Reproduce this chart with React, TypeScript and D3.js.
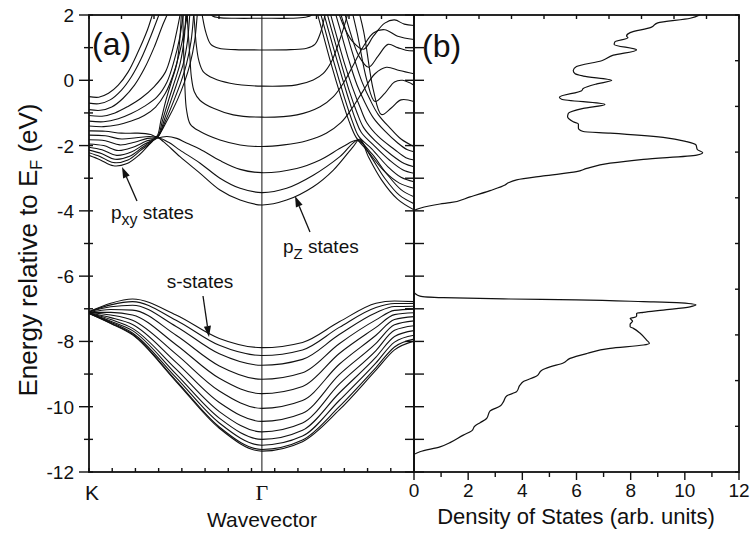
import React from 'react';
import * as d3 from 'd3';

// ---------- axis / tick data ----------
const energyTickValues = [2, 0, -2, -4, -6, -8, -10, -12];
const dosTickValues = [0, 2, 4, 6, 8, 10, 12];
const yTitle = 'Energy relative to E';
const kPointLabels = ['K', 'Γ'];
const kPointPositions = [0, 0.532];

// ---------- s-band data (k as fraction of K-Γ-M path) ----------
const sBandK = [0, 0.067, 0.134, 0.268, 0.401, 0.532, 0.657, 0.77, 0.883, 0.94, 1.0];
const sBands = [
  [-7.09, -6.83, -6.7, -7.19, -7.91, -8.19, -8.03, -7.4, -6.83, -6.76, -6.78],
  [-7.09, -6.88, -6.78, -7.35, -8.12, -8.43, -8.26, -7.57, -6.96, -6.84, -6.84],
  [-7.1, -6.94, -6.89, -7.54, -8.38, -8.73, -8.55, -7.79, -7.12, -6.93, -6.92],
  [-7.11, -7.02, -7.04, -7.81, -8.75, -9.16, -8.96, -8.07, -7.34, -7.05, -7.01],
  [-7.11, -7.11, -7.19, -8.1, -9.13, -9.6, -9.38, -8.37, -7.57, -7.18, -7.12],
  [-7.12, -7.19, -7.35, -8.39, -9.52, -10.05, -9.81, -8.7, -7.81, -7.33, -7.24],
  [-7.13, -7.27, -7.48, -8.64, -9.87, -10.45, -10.2, -9.02, -8.06, -7.49, -7.37],
  [-7.13, -7.33, -7.6, -8.85, -10.15, -10.77, -10.5, -9.31, -8.28, -7.66, -7.52],
  [-7.13, -7.38, -7.67, -9.0, -10.35, -11.0, -10.72, -9.58, -8.48, -7.85, -7.67],
  [-7.14, -7.41, -7.74, -9.11, -10.5, -11.18, -10.9, -9.81, -8.66, -8.02, -7.81],
  [-7.14, -7.44, -7.78, -9.2, -10.62, -11.31, -11.02, -10.0, -8.8, -8.17, -7.93],
  [-7.14, -7.45, -7.8, -9.23, -10.66, -11.36, -11.07, -10.1, -8.88, -8.26, -7.99],
];

// ---------- p-band data: [k, E] ----------
const pzLowerBands = [
  [[0, -2.3], [0.035, -2.44], [0.075, -2.62], [0.115, -2.56], [0.155, -2.28], [0.185, -1.97], [0.208, -1.74], [0.229, -1.88], [0.28, -2.34], [0.342, -2.85], [0.403, -3.36], [0.465, -3.67], [0.532, -3.82], [0.608, -3.67], [0.69, -3.26], [0.752, -2.75], [0.813, -2.03], [0.834, -1.8], [0.86, -2.35], [0.9, -3.05], [0.95, -3.65], [1.0, -3.97]],
  [[0, -2.22], [0.035, -2.34], [0.075, -2.52], [0.12, -2.44], [0.16, -2.14], [0.19, -1.92], [0.21, -1.76], [0.245, -1.9], [0.28, -2.14], [0.342, -2.54], [0.403, -3.0], [0.465, -3.31], [0.532, -3.44], [0.608, -3.31], [0.69, -2.91], [0.772, -2.34], [0.83, -1.82], [0.865, -2.3], [0.91, -3.0], [0.955, -3.52], [1.0, -3.78]],
  [[0, -2.14], [0.04, -2.25], [0.08, -2.42], [0.125, -2.33], [0.165, -2.05], [0.195, -1.86], [0.212, -1.77], [0.24, -1.72], [0.27, -1.78], [0.3, -1.92], [0.342, -2.11], [0.403, -2.46], [0.465, -2.73], [0.532, -2.83], [0.639, -2.7], [0.711, -2.44], [0.782, -2.03], [0.826, -1.84], [0.87, -2.25], [0.915, -2.85], [0.96, -3.35], [1.0, -3.57]],
];
const pzUpperBands = [
  [[0.288, 2.4], [0.29, 1.4], [0.292, 0.6], [0.295, -0.2], [0.3, -0.9], [0.312, -1.35], [0.342, -1.57], [0.403, -1.83], [0.465, -1.98], [0.532, -2.03], [0.6, -1.98], [0.67, -1.85], [0.73, -1.62], [0.775, -1.3], [0.81, -0.85], [0.845, -0.3], [0.88, 0.2], [0.915, 0.4], [0.955, 0.3], [1.0, 0.2]],
  [[0.3, 2.4], [0.305, 1.5], [0.31, 0.8], [0.315, 0.1], [0.324, -0.35], [0.342, -0.62], [0.383, -0.86], [0.444, -1.06], [0.532, -1.13], [0.64, -1.06], [0.711, -0.81], [0.752, -0.5], [0.785, -0.05], [0.815, 0.5], [0.845, 1.05], [0.875, 1.45], [0.91, 1.55], [0.95, 1.35], [1.0, 1.25]],
  [[0.32, 2.4], [0.325, 1.7], [0.33, 1.1], [0.338, 0.6], [0.352, 0.26], [0.383, 0.06], [0.434, -0.09], [0.532, -0.18], [0.639, -0.14], [0.69, 0.01], [0.721, 0.21], [0.745, 0.55], [0.765, 1.05], [0.785, 1.65], [0.8, 2.2], [0.81, 2.6]],
  [[0.343, 2.4], [0.35, 1.9], [0.36, 1.45], [0.375, 1.1], [0.4, 0.98], [0.45, 0.94], [0.532, 0.93], [0.62, 0.94], [0.67, 0.98], [0.695, 1.1], [0.712, 1.45], [0.725, 1.95], [0.735, 2.5]],
  [[0.36, 2.4], [0.37, 2.1], [0.38, 1.97], [0.4, 1.92], [0.45, 1.9], [0.532, 1.9], [0.62, 1.9], [0.665, 1.93], [0.685, 2.0], [0.7, 2.3], [0.71, 2.6]],
];
const kSideBundleBands = [
  [[0, -1.55], [0.05, -1.56], [0.1, -1.62], [0.15, -1.62], [0.19, -1.66], [0.208, -1.72], [0.222, -1.2], [0.237, -0.6], [0.255, 0.0], [0.27, 0.5], [0.279, 1.2], [0.284, 2.0], [0.286, 2.4]],
  [[0, -1.68], [0.05, -1.7], [0.1, -1.8], [0.145, -1.76], [0.185, -1.72], [0.21, -1.73], [0.227, -1.2], [0.245, -0.6], [0.263, -0.05], [0.28, 0.5], [0.292, 1.2], [0.298, 2.0], [0.3, 2.4]],
  [[0, -1.82], [0.05, -1.85], [0.095, -1.98], [0.14, -1.9], [0.18, -1.78], [0.211, -1.74], [0.232, -1.2], [0.253, -0.6], [0.272, -0.05], [0.29, 0.5], [0.303, 1.2], [0.31, 2.0], [0.313, 2.4]],
  [[0, -1.95], [0.045, -2.0], [0.09, -2.15], [0.135, -2.05], [0.175, -1.87], [0.21, -1.75], [0.237, -1.2], [0.262, -0.6], [0.283, -0.05], [0.3, 0.5], [0.314, 1.2], [0.322, 2.0], [0.325, 2.4]],
  [[0, -2.05], [0.04, -2.13], [0.085, -2.3], [0.13, -2.2], [0.17, -1.96], [0.208, -1.76], [0.242, -1.2], [0.272, -0.6], [0.294, -0.05], [0.311, 0.5], [0.325, 1.2], [0.333, 2.0], [0.336, 2.4]],
];
const kSideUpperBands = [
  [[0, -0.5], [0.03, -0.52], [0.06, -0.4], [0.09, -0.15], [0.12, 0.25], [0.15, 0.85], [0.18, 1.55], [0.195, 2.0], [0.21, 2.4]],
  [[0, -0.7], [0.03, -0.72], [0.065, -0.6], [0.1, -0.3], [0.13, 0.1], [0.16, 0.65], [0.19, 1.35], [0.215, 2.0], [0.23, 2.4]],
  [[0, -0.9], [0.035, -0.92], [0.07, -0.82], [0.105, -0.55], [0.14, -0.15], [0.17, 0.35], [0.2, 1.0], [0.225, 1.65], [0.24, 2.0], [0.255, 2.4]],
  [[0, -1.08], [0.04, -1.1], [0.08, -1.0], [0.12, -0.8], [0.16, -0.55], [0.2, -0.2], [0.235, 0.25], [0.255, 0.85], [0.27, 1.5], [0.28, 2.0], [0.285, 2.4]],
  [[0, -1.25], [0.045, -1.27], [0.09, -1.18], [0.13, -1.02], [0.17, -0.8], [0.21, -0.5], [0.24, -0.05], [0.262, 0.6], [0.278, 1.25], [0.29, 2.0], [0.295, 2.4]],
  [[0, -1.4], [0.045, -1.42], [0.09, -1.36], [0.13, -1.25], [0.17, -1.08], [0.205, -0.82], [0.235, -0.4], [0.26, 0.2], [0.28, 0.9], [0.295, 1.6], [0.305, 2.1], [0.31, 2.4]],
];
const mSideBundleBands = [
  [[0.69, 2.5], [0.715, 1.6], [0.745, 0.5], [0.775, -0.5], [0.8, -1.25], [0.822, -1.75], [0.86, -2.2], [0.91, -2.8], [0.955, -3.15], [1.0, -3.31]],
  [[0.7, 2.5], [0.725, 1.6], [0.755, 0.5], [0.785, -0.5], [0.81, -1.25], [0.83, -1.72], [0.87, -2.1], [0.92, -2.65], [0.96, -2.97], [1.0, -3.11]],
  [[0.71, 2.5], [0.735, 1.6], [0.765, 0.55], [0.795, -0.45], [0.82, -1.2], [0.838, -1.6], [0.875, -1.98], [0.925, -2.45], [0.965, -2.74], [1.0, -2.85]],
  [[0.72, 2.5], [0.745, 1.6], [0.775, 0.55], [0.8, -0.3], [0.825, -1.0], [0.845, -1.45], [0.88, -1.85], [0.93, -2.28], [0.97, -2.55], [1.0, -2.65]],
  [[0.73, 2.5], [0.755, 1.6], [0.785, 0.55], [0.81, -0.2], [0.835, -0.85], [0.855, -1.3], [0.89, -1.72], [0.94, -2.12], [0.975, -2.37], [1.0, -2.44]],
  [[0.745, 2.5], [0.77, 1.65], [0.8, 0.6], [0.825, -0.15], [0.85, -0.7], [0.875, -1.15], [0.91, -1.55], [0.95, -1.92], [0.98, -2.13], [1.0, -2.19]],
  [[0.76, 2.5], [0.785, 1.7], [0.815, 0.7], [0.84, -0.05], [0.865, -0.6], [0.89, -1.05], [0.925, -1.45], [0.96, -1.8], [1.0, -2.03]],
];
const mSideZigzagBands = [
  [[0.755, 2.5], [0.78, 1.75], [0.81, 1.2], [0.845, 0.95], [0.875, 1.35], [0.91, 1.75], [0.94, 1.85], [0.97, 1.72], [1.0, 1.68]],
  [[0.775, 2.5], [0.8, 1.6], [0.83, 0.75], [0.86, 0.4], [0.89, 0.75], [0.92, 1.1], [0.95, 1.0], [0.975, 0.92], [1.0, 0.9]],
  [[0.8, 2.5], [0.825, 1.45], [0.855, 0.0], [0.88, -0.65], [0.91, -0.4], [0.94, -0.05], [0.965, 0.0], [1.0, -0.15]],
  [[0.82, 2.5], [0.845, 1.5], [0.875, -0.3], [0.9, -1.05], [0.93, -0.85], [0.96, -0.6], [1.0, -0.65]],
];

// ---------- density of states: [DOS, E] ----------
const dosUpper = [
  [10.55, 2.0], [10.2, 1.9], [9.0, 1.76], [8.75, 1.62], [7.98, 1.46], [7.85, 1.36], [7.9, 1.3], [7.42, 1.18], [7.39, 1.1],
  [8.22, 0.93], [7.36, 0.77], [6.93, 0.6], [6.0, 0.42], [5.88, 0.3], [5.95, 0.2], [6.25, 0.13], [7.3, 0.0], [6.75, -0.11],
  [6.25, -0.25], [6.19, -0.32], [5.37, -0.52], [5.45, -0.58], [7.05, -0.74], [6.25, -0.86], [5.7, -1.01], [5.67, -1.12],
  [5.88, -1.27], [6.07, -1.34], [6.07, -1.47], [6.25, -1.57], [7.24, -1.62], [9.2, -1.75], [10.07, -1.88], [10.41, -1.98],
  [10.46, -2.12], [10.66, -2.22], [10.44, -2.29], [8.47, -2.42], [7.24, -2.54], [6.38, -2.7], [6.0, -2.8], [4.78, -2.93],
  [3.79, -3.05], [3.48, -3.14], [3.36, -3.21], [2.81, -3.38], [2.07, -3.57], [1.33, -3.75], [0.96, -3.79], [0.22, -3.92],
  [0, -4.0], [0, -6.5],
];
const dosLower = [
  [0, -6.5], [0.04, -6.53], [0.22, -6.61], [1.08, -6.66], [3.54, -6.7], [6.0, -6.73], [8.47, -6.78], [9.7, -6.81],
  [10.41, -6.88], [10.19, -6.94], [9.2, -7.04], [8.47, -7.11], [8.22, -7.14], [8.22, -7.22], [8.1, -7.27], [7.98, -7.29],
  [8.07, -7.38], [7.98, -7.47], [7.98, -7.55], [8.1, -7.6], [8.35, -7.75], [8.59, -7.96], [8.69, -8.06], [8.47, -8.11],
  [7.24, -8.21], [6.38, -8.37], [5.76, -8.52], [5.51, -8.66], [5.02, -8.78], [4.72, -8.88], [4.53, -9.06], [4.04, -9.23],
  [3.91, -9.34], [3.79, -9.54], [3.42, -9.67], [3.3, -9.85], [3.18, -9.98], [2.81, -10.13], [2.68, -10.36], [2.44, -10.49],
  [2.25, -10.59], [2.13, -10.74], [1.82, -10.87], [1.33, -11.1], [0.96, -11.23], [0.22, -11.38], [0, -11.48], [0, -12],
];

const FONT = '"Liberation Sans", Arial, Helvetica, sans-serif';

function Arrow({ x1, y1, x2, y2 }) {
  const ang = Math.atan2(y2 - y1, x2 - x1);
  const len = 11;
  const hw = 3.6;
  const bx = x2 - len * Math.cos(ang);
  const by = y2 - len * Math.sin(ang);
  const px = -Math.sin(ang) * hw;
  const py = Math.cos(ang) * hw;
  return (
    <g>
      <line x1={x1} y1={y1} x2={bx} y2={by} stroke="#111" strokeWidth={1.3} />
      <polygon points={`${x2},${y2} ${bx + px},${by + py} ${bx - px},${by - py}`} fill="#111" />
    </g>
  );
}

export default function App() {
  const L = 89, MID = 414, R = 739, T = 15, B = 472;
  const k = d3.scaleLinear().domain([0, 1]).range([L, MID]);
  const e = d3.scaleLinear().domain([-12, 2]).range([B, T]);
  const dos = d3.scaleLinear().domain([0, 12]).range([MID, R]);

  const sLine = d3.line().x((d) => k(d[0])).y((d) => e(d[1])).curve(d3.curveMonotoneX);
  const pLine = d3.line().x((d) => k(d[0])).y((d) => e(d[1])).curve(d3.curveCatmullRom.alpha(0.5));
  const dLine = d3.line().x((d) => dos(d[0])).y((d) => e(d[1])).curve(d3.curveMonotoneY);

  const pBands = [...pzLowerBands, ...pzUpperBands, ...kSideBundleBands, ...kSideUpperBands, ...mSideBundleBands, ...mSideZigzagBands];
  const intE = d3.range(-12, 3, 1);
  const axisW = 1.8;
  const stroke = '#111';

  const topTicksL = d3.range(0, 11).map((i) => L + (i * (MID - L)) / 10);
  const botTicksL = d3.range(0, 15).map((i) => L + (i * (MID - L)) / 14);
  const topTicksR = d3.range(0, 11).map((i) => MID + (i * (R - MID)) / 10);
  const rightTicksR = d3.range(0, 11).map((i) => T + (i * (B - T)) / 10);

  return (
    <svg width={752} height={534} style={{ position: 'absolute', left: 0, top: 0, background: '#fff' }} fontFamily={FONT}>
      <defs>
        <clipPath id="clipA">
          <rect x={L} y={T} width={MID - L} height={B - T} />
        </clipPath>
        <clipPath id="clipB">
          <rect x={MID} y={T - 1} width={R - MID} height={B - T + 2} />
        </clipPath>
      </defs>

      <g clipPath="url(#clipA)" fill="none" stroke={stroke} strokeWidth={1.1}>
        {sBands.map((band, i) => (
          <path key={'s' + i} d={sLine(band.map((v, j) => [sBandK[j], v]))} />
        ))}
        {pBands.map((band, i) => (
          <path key={'p' + i} d={pLine(band)} />
        ))}
      </g>
      <line x1={k(kPointPositions[1])} x2={k(kPointPositions[1])} y1={T} y2={B} stroke={stroke} strokeWidth={1} />

      <g clipPath="url(#clipB)" fill="none" stroke={stroke} strokeWidth={1.2}>
        <path d={dLine(dosUpper)} />
        <path d={dLine(dosLower)} />
      </g>

      <g stroke={stroke} strokeWidth={axisW} fill="none">
        <rect x={L} y={T} width={MID - L} height={B - T} />
        <rect x={MID} y={T} width={R - MID} height={B - T} />
      </g>

      <g stroke={stroke} strokeWidth={1.4}>
        {intE.map((v) => (
          <line key={'lo' + v} x1={L - (v % 2 === 0 ? 10 : 5)} x2={L + 4} y1={e(v)} y2={e(v)} />
        ))}
        {intE.map((v) => (
          <line key={'mi' + v} x1={MID - 9} x2={MID + 10} y1={e(v)} y2={e(v)} />
        ))}
        {topTicksL.map((x, i) => (
          <line key={'tl' + i} x1={x} x2={x} y1={T} y2={T + 4} />
        ))}
        {botTicksL.map((x, i) => (
          <line key={'bl' + i} x1={x} x2={x} y1={B} y2={B - 4} />
        ))}
        {topTicksR.map((x, i) => (
          <line key={'tr' + i} x1={x} x2={x} y1={T} y2={T + 4} />
        ))}
        {rightTicksR.map((y, i) => (
          <line key={'rr' + i} x1={R} x2={R - 4} y1={y} y2={y} />
        ))}
        {d3.range(0, 13).map((v) => (
          <line key={'db' + v} x1={dos(v)} x2={dos(v)} y1={B} y2={B + (v % 2 === 0 ? 8 : 5)} />
        ))}
      </g>

      <g fontSize={19} fill="#111">
        {energyTickValues.map((v) => (
          <text key={'el' + v} x={74} y={e(v) + 7} textAnchor="end">{String(v)}</text>
        ))}
        {dosTickValues.map((v) => (
          <text key={'dl' + v} x={dos(v)} y={497} textAnchor="middle">{String(v)}</text>
        ))}
      </g>
      <text x={k(kPointPositions[0]) + 3} y={500} fontSize={21} textAnchor="middle" fill="#111">{kPointLabels[0]}</text>
      <text x={k(kPointPositions[1])} y={500} fontSize={22} textAnchor="middle" fill="#111" fontFamily='"Liberation Serif", "Times New Roman", serif'>{kPointLabels[1]}</text>

      <text x={262} y={527} fontSize={21} textAnchor="middle" fill="#111">Wavevector</text>
      <text x={576} y={524} fontSize={22} textAnchor="middle" fill="#111">Density of States (arb. units)</text>
      <text transform="translate(37,250) rotate(-90)" fontSize={26} textAnchor="middle" fill="#111">
        {yTitle}<tspan fontSize={16} dy={5}>F</tspan><tspan dy={-5}> (eV)</tspan>
      </text>

      <text x={92} y={55} fontSize={32} fill="#111">(a)</text>
      <text x={422} y={57} fontSize={32} fill="#111">(b)</text>

      <text x={111} y={219} fontSize={19} fill="#111">p<tspan fontSize={16} dy={6}>xy</tspan><tspan dy={-6}> states</tspan></text>
      <Arrow x1={137} y1={201} x2={122} y2={167} />
      <text x={283} y={253} fontSize={19} fill="#111">p<tspan fontSize={15} dy={6}>Z</tspan><tspan dy={-6}> states</tspan></text>
      <Arrow x1={310} y1={232} x2={295} y2={196} />
      <text x={200} y={288} fontSize={19} textAnchor="middle" fill="#111">s-states</text>
      <Arrow x1={203} y1={296} x2={209} y2={337} />
    </svg>
  );
}
